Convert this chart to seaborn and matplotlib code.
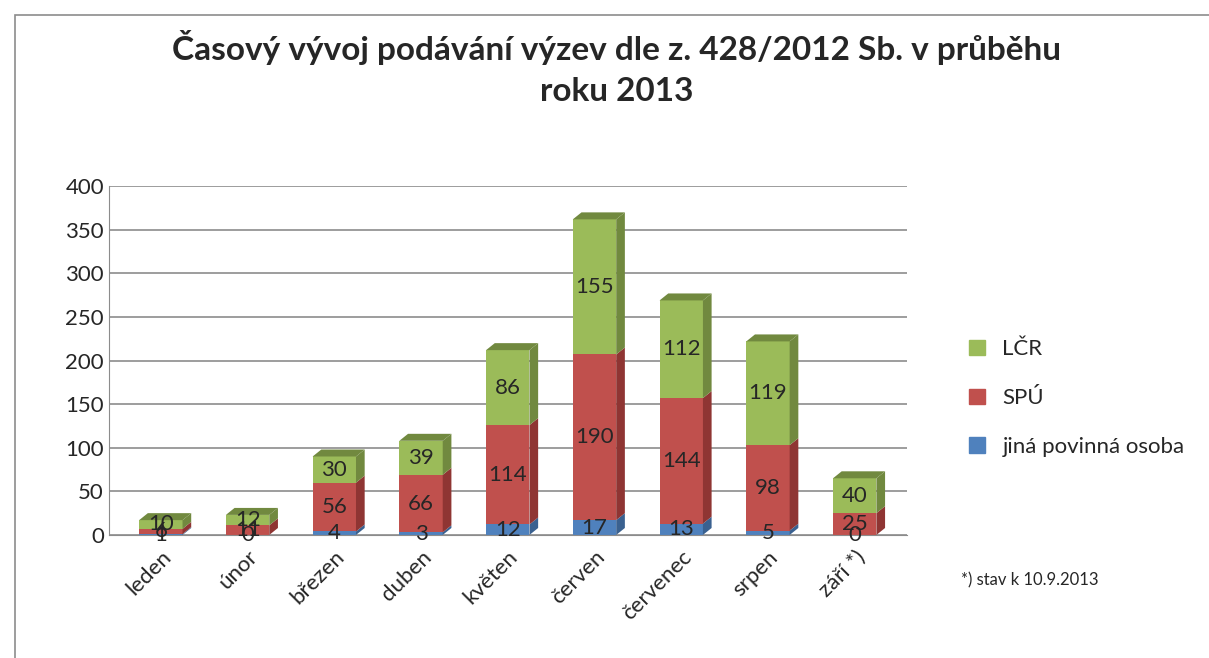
import numpy as np
import pandas as pd
import matplotlib
matplotlib.use("Agg")
import matplotlib.pyplot as plt
from matplotlib.patches import Polygon
import seaborn as sns

months = ["leden", "únor", "březen", "duben", "květen", "červen", "červenec", "srpen", "září *)"]
jina = [1, 0, 4, 3, 12, 17, 13, 5, 0]
spu = [6, 11, 56, 66, 114, 190, 144, 98, 25]
lcr = [10, 12, 30, 39, 86, 155, 112, 119, 40]

series = [("jiná povinná osoba", jina, "#4F81BD", "#3A6190"),
          ("SPÚ", spu, "#C0504D", "#8F3533"),
          ("LČR", lcr, "#9BBB59", "#71893F")]

sns.set_style("white")
plt.rcParams['font.family'] = ['Lato', 'DejaVu Sans']

fig = plt.figure(figsize=(12.09, 6.58), dpi=100)
ax = fig.add_axes([0.09, 0.187, 0.66, 0.53])

dx, dy = 0.1, 8
bottom = np.zeros(len(months))
for name, vals, col, dark in series:
    df = pd.DataFrame({"month": months, "val": vals})
    n0 = len(ax.patches)
    sns.barplot(data=df, x="month", y="val", color=col, bottom=bottom, width=0.5,
                ax=ax, label=name, saturation=1, edgecolor="none", legend=False)
    for p in ax.patches[n0:]:
        x0, y0 = p.get_x(), p.get_y()
        w, hgt = p.get_width(), p.get_height()
        if hgt <= 0:
            continue
        ax.add_patch(Polygon([(x0 + w, y0), (x0 + w + dx, y0 + dy),
                              (x0 + w + dx, y0 + hgt + dy), (x0 + w, y0 + hgt)],
                             closed=True, facecolor=dark, edgecolor="none", zorder=p.get_zorder()))
    for i, v in enumerate(vals):
        ax.text(i, bottom[i] + v / 2, str(v), ha="center", va="center", fontsize=16, zorder=5)
    bottom = bottom + np.array(vals)

# top faces of the stacks
for i, tot in enumerate(bottom):
    ax.add_patch(Polygon([(i - 0.25, tot), (i - 0.25 + dx, tot + dy),
                          (i + 0.25 + dx, tot + dy), (i + 0.25, tot)],
                         closed=True, facecolor="#71893F", edgecolor="none", zorder=2))

ax.set_xlim(-0.6, len(months) - 0.4)
ax.set_ylim(0, 400)
ax.set_yticks(range(0, 401, 50))
ax.yaxis.grid(True, color="#8c8c8c", lw=1.2)
ax.set_axisbelow(True)
ax.set_xlabel("")
ax.set_ylabel("")
for s in ["top", "right"]:
    ax.spines[s].set_visible(False)
ax.spines["left"].set_color("#8c8c8c")
ax.spines["bottom"].set_color("#8c8c8c")
ax.tick_params(axis="y", labelsize=16, length=0)
ax.tick_params(axis="x", labelsize=16, length=5, color="#8c8c8c")
plt.setp(ax.get_xticklabels(), rotation=45, ha="right", rotation_mode="anchor")

handles = [plt.Rectangle((0, 0), 1, 1, color=c) for _, _, c, _ in series]
labels = [n for n, _, _, _ in series]
fig.legend(handles[::-1], labels[::-1], loc="center left", bbox_to_anchor=(0.785, 0.395),
           frameon=False, fontsize=16, handlelength=0.7, handleheight=0.7, labelspacing=1.3)

fig.suptitle("Časový vývoj podávání výzev dle z. 428/2012 Sb. v průběhu\nroku 2013",
             x=0.51, y=0.955, fontsize=24, fontweight="bold", linespacing=1.5)
fig.text(0.795, 0.11, "*) stav k 10.9.2013", fontsize=12)

fig.patches.append(plt.Rectangle((0.012, -0.05), 1.2, 1.027, transform=fig.transFigure,
                                 fill=False, edgecolor="#8c8c8c", lw=1.2))

fig.savefig("out.png", dpi=100)
